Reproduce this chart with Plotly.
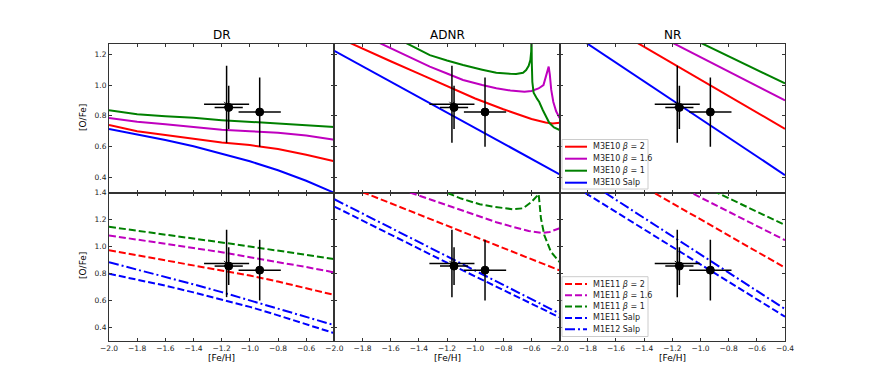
import plotly.graph_objects as go
from plotly.subplots import make_subplots

# ---- data ----
feh_grid = [-2.0, -1.8, -1.6, -1.4, -1.2, -1.0, -0.8, -0.6, -0.4]

# DR, top row (M3E10)
dr_m3e10_b2 = [0.74, 0.70, 0.675, 0.65, 0.627, 0.61, 0.585, 0.547, 0.505]
dr_m3e10_b16 = [0.786, 0.762, 0.745, 0.728, 0.71, 0.70, 0.69, 0.672, 0.645]
dr_m3e10_b1 = [0.836, 0.81, 0.797, 0.787, 0.772, 0.762, 0.752, 0.74, 0.728]
dr_m3e10_salp = [0.715, 0.68, 0.643, 0.602, 0.556, 0.505, 0.447, 0.378, 0.30]

# DR, bottom row (M1E11 / M1E12)
dr_m1e11_b2 = [0.972, 0.935, 0.898, 0.86, 0.823, 0.785, 0.74, 0.69, 0.641]
dr_m1e11_b16 = [1.082, 1.05, 1.02, 0.99, 0.958, 0.92, 0.885, 0.848, 0.808]
dr_m1e11_b1 = [1.146, 1.118, 1.09, 1.06, 1.03, 1.0, 0.97, 0.94, 0.907]
dr_m1e11_salp = [0.798, 0.755, 0.71, 0.66, 0.605, 0.553, 0.49, 0.425, 0.358]
dr_m1e12_salp = [0.883, 0.83, 0.775, 0.72, 0.662, 0.60, 0.54, 0.48, 0.417]

# ADNR, top row
adnr_b2_x = [-2.0, -1.8, -1.6, -1.4, -1.2, -1.0, -0.8, -0.7, -0.6, -0.5, -0.45, -0.4]
adnr_b2_y = [1.32, 1.235, 1.155, 1.075, 0.995, 0.913, 0.843, 0.81, 0.78, 0.757, 0.75, 0.755]
adnr_b16_x = [-2.0, -1.663, -1.5, -1.322, -1.2, -1.086, -0.95, -0.85, -0.75, -0.65, -0.6,
              -0.55, -0.515, -0.495, -0.478, -0.47, -0.46, -0.445, -0.425, -0.4]
adnr_b16_y = [1.412, 1.267, 1.195, 1.12, 1.075, 1.033, 1.0, 0.979, 0.965, 0.957, 0.962,
              0.978, 1.0, 1.06, 1.12, 1.07, 0.97, 0.89, 0.83, 0.785]
adnr_b1_x = [-2.0, -1.475, -1.322, -1.2, -1.086, -0.95, -0.85, -0.75, -0.709, -0.66, -0.638,
             -0.62, -0.608, -0.602, -0.6, -0.598, -0.594, -0.585, -0.56, -0.545, -0.52,
             -0.5, -0.474, -0.44, -0.4]
adnr_b1_y = [1.51, 1.267, 1.195, 1.16, 1.13, 1.10, 1.08, 1.073, 1.072, 1.08, 1.098,
             1.125, 1.163, 1.22, 1.35, 1.15, 1.02, 0.95, 0.91, 0.89, 0.838,
             0.80, 0.755, 0.725, 0.708]
adnr_salp_x = [-2.0, -1.2, -0.4]
adnr_salp_y = [1.223, 0.82, 0.42]

# ADNR, bottom row
adnr_m1e11_b2_x = [-2.0, -1.2, -0.4]
adnr_m1e11_b2_y = [1.486, 1.155, 0.823]
adnr_m1e11_b16_x = [-2.0, -1.463, -1.2, -0.968, -0.85, -0.733, -0.62, -0.52, -0.47, -0.415, -0.4]
adnr_m1e11_b16_y = [1.593, 1.40, 1.305, 1.221, 1.18, 1.146, 1.115, 1.10, 1.108, 1.13, 1.135]
adnr_m1e11_b1_x = [-2.0, -1.204, -1.1, -0.968, -0.88, -0.733, -0.66, -0.6, -0.565, -0.549,
                   -0.533, -0.509, -0.462, -0.4]
adnr_m1e11_b1_y = [1.69, 1.40, 1.355, 1.313, 1.296, 1.276, 1.283, 1.33, 1.37, 1.388,
                   1.209, 1.084, 0.96, 0.885]
adnr_m1e11_salp_x = [-2.0, -1.2, -0.4]
adnr_m1e11_salp_y = [1.296, 0.88, 0.475]
adnr_m1e12_salp_x = [-2.0, -1.2, -0.4]
adnr_m1e12_salp_y = [1.35, 0.925, 0.504]

# NR (straight lines)
nr_x = [-2.0, -0.4]
nr_m3e10_b2 = [1.568, 0.716]
nr_m3e10_b16 = [1.651, 0.90]
nr_m3e10_b1 = [1.716, 1.011]
nr_m3e10_salp = [1.389, 0.415]
nr_m1e11_b2 = [1.798, 0.843]
nr_m1e11_b16 = [1.89, 1.047]
nr_m1e11_b1 = [1.953, 1.159]
nr_m1e11_salp = [1.514, 0.48]
nr_m1e12_salp = [1.615, 0.537]

# observed stars
obs_feh = [-1.165, -1.15, -0.93]
obs_ofe = [0.875, 0.855, 0.825]
obs_feh_err = [0.16, 0.10, 0.15]
obs_ofe_err = [0.25, 0.14, 0.225]

titles = ["DR", "ADNR", "NR"]
top_names = ["M3E10 <i>β</i> = 2", "M3E10 <i>β</i> = 1.6", "M3E10 <i>β</i> = 1", "M3E10 Salp"]
bottom_names = ["M1E11 <i>β</i> = 2", "M1E11 <i>β</i> = 1.6", "M1E11 <i>β</i> = 1",
                "M1E11 Salp", "M1E12 Salp"]

# ---- styles ----
RED, MAG, GRN, BLU = "#ff0000", "#bf00bf", "#008000", "#0000ff"
DASH = "7px,3px"
DASHDOT = "10px,3px,2px,3px"
FONT = "DejaVu Sans"

top_styles = [(RED, "solid"), (MAG, "solid"), (GRN, "solid"), (BLU, "solid")]
bottom_styles = [(RED, DASH), (MAG, DASH), (GRN, DASH), (BLU, DASH), (BLU, DASHDOT)]

top_series = [
    [(feh_grid, dr_m3e10_b2), (feh_grid, dr_m3e10_b16), (feh_grid, dr_m3e10_b1), (feh_grid, dr_m3e10_salp)],
    [(adnr_b2_x, adnr_b2_y), (adnr_b16_x, adnr_b16_y), (adnr_b1_x, adnr_b1_y), (adnr_salp_x, adnr_salp_y)],
    [(nr_x, nr_m3e10_b2), (nr_x, nr_m3e10_b16), (nr_x, nr_m3e10_b1), (nr_x, nr_m3e10_salp)],
]
bottom_series = [
    [(feh_grid, dr_m1e11_b2), (feh_grid, dr_m1e11_b16), (feh_grid, dr_m1e11_b1),
     (feh_grid, dr_m1e11_salp), (feh_grid, dr_m1e12_salp)],
    [(adnr_m1e11_b2_x, adnr_m1e11_b2_y), (adnr_m1e11_b16_x, adnr_m1e11_b16_y),
     (adnr_m1e11_b1_x, adnr_m1e11_b1_y), (adnr_m1e11_salp_x, adnr_m1e11_salp_y),
     (adnr_m1e12_salp_x, adnr_m1e12_salp_y)],
    [(nr_x, nr_m1e11_b2), (nr_x, nr_m1e11_b16), (nr_x, nr_m1e11_b1),
     (nr_x, nr_m1e11_salp), (nr_x, nr_m1e12_salp)],
]

# the page body has an 8px margin, so the figure is drawn from (8, 8)
OFF = 8
W, H = 864, 374
ML, MR, MT, MB = 101, 87, 36, 41
PX0, PY0 = OFF + ML, OFF + MT
PW, PH = W - ML - MR, H - MT - MB


def px(x, y):
    # window pixel -> paper coordinates
    return (x - PX0) / PW, 1 - (y - PY0) / PH


fig = make_subplots(rows=2, cols=3, horizontal_spacing=0, vertical_spacing=0)

for row, series, styles in [(1, top_series, top_styles), (2, bottom_series, bottom_styles)]:
    for col in range(1, 4):
        for (xs, ys), (color, dash) in zip(series[col - 1], styles):
            fig.add_trace(go.Scatter(x=xs, y=ys, mode="lines", showlegend=False,
                                     line=dict(color=color, width=2, dash=dash)),
                          row=row, col=col)
        fig.add_trace(go.Scatter(
            x=obs_feh, y=obs_ofe, mode="markers", showlegend=False,
            marker=dict(color="black", size=[5, 8, 8], opacity=1,
                        symbol=["x-thin", "circle", "circle"],
                        line=dict(color="black", width=1)),
            error_x=dict(type="data", array=obs_feh_err, color="black", thickness=1.5, width=0),
            error_y=dict(type="data", array=obs_ofe_err, color="black", thickness=1.5, width=0),
        ), row=row, col=col)


def fmt(v):
    return f"{v:.1f}".replace("-", "\u2212")


xt_short = [-2.0, -1.8, -1.6, -1.4, -1.2, -1.0, -0.8, -0.6]
xt_full = xt_short + [-0.4]
yt_top = [0.4, 0.6, 0.8, 1.0, 1.2]
yt_bot = [0.4, 0.6, 0.8, 1.0, 1.2, 1.4]

axis_common = dict(showline=True, linecolor="#333", linewidth=1, mirror="ticks",
                   ticks="inside", ticklen=3, tickwidth=0.8, tickcolor="#333",
                   showgrid=False, zeroline=False,
                   tickfont=dict(family=FONT, size=7.5, color="#222"))

for row in (1, 2):
    for col in (1, 2, 3):
        xt = xt_full if col == 3 else xt_short
        fig.update_xaxes(range=[-2.0, -0.4], tickvals=xt, ticktext=[fmt(v) for v in xt],
                         showticklabels=(row == 2), row=row, col=col, **axis_common)
        yt = yt_top if row == 1 else yt_bot
        fig.update_yaxes(range=[0.302, 1.267] if row == 1 else [0.3, 1.4],
                         tickvals=yt, ticktext=[fmt(v) for v in yt],
                         showticklabels=(col == 1), row=row, col=col, **axis_common)

annotations = []
col_centers = [221.5, 447, 672.5]
for t, cx in zip(titles, col_centers):
    ax, _ = px(cx, 0)
    annotations.append(dict(text=t, x=ax, y=1, xref="paper", yref="paper", xanchor="center",
                            yanchor="bottom", yshift=0, showarrow=False,
                            font=dict(family=FONT, size=12, color="black")))
    annotations.append(dict(text="[Fe/H]", x=ax, y=px(0, 358)[1], xref="paper", yref="paper",
                            xanchor="center", yanchor="middle", showarrow=False,
                            font=dict(family=FONT, size=9, color="black")))
for cy in (118, 266):
    annotations.append(dict(text="[O/Fe]", x=px(83, 0)[0], y=px(0, cy)[1], xref="paper",
                            yref="paper", xanchor="center", yanchor="middle", textangle=-90,
                            showarrow=False, font=dict(family=FONT, size=9, color="black")))

# hand-drawn legends (matplotlib-style compact boxes)
shapes = []
for names, styles, box, first_y, step in [
    (top_names, top_styles, (562, 139.5, 648, 189), 146.7, 12.0),
    (bottom_names, bottom_styles, (562, 276.7, 648, 336.5), 284.0, 11.3),
]:
    x0, y0 = px(box[0], box[1])
    x1, y1 = px(box[2], box[3])
    shapes.append(dict(type="rect", xref="paper", yref="paper", x0=x0, y0=y1, x1=x1, y1=y0,
                       line=dict(color="#cccccc", width=1),
                       fillcolor="rgba(255,255,255,0.85)", layer="above"))
    for i, (name, (color, dash)) in enumerate(zip(names, styles)):
        yy = first_y + i * step
        lx0, ly = px(565, yy)
        lx1, _ = px(587, yy)
        shapes.append(dict(type="line", xref="paper", yref="paper", x0=lx0, x1=lx1, y0=ly, y1=ly,
                           line=dict(color=color, width=2, dash=dash), layer="above"))
        annotations.append(dict(text=name, x=px(591, 0)[0], y=ly, xref="paper", yref="paper",
                                xanchor="left", yanchor="middle", showarrow=False,
                                font=dict(family=FONT, size=8, color="#222")))

fig.update_layout(
    width=W, height=H,
    margin=dict(l=ML, r=MR, t=MT, b=MB),
    paper_bgcolor="white", plot_bgcolor="white",
    showlegend=False,
    annotations=annotations,
    shapes=shapes,
)

fig.write_html("out.html")
